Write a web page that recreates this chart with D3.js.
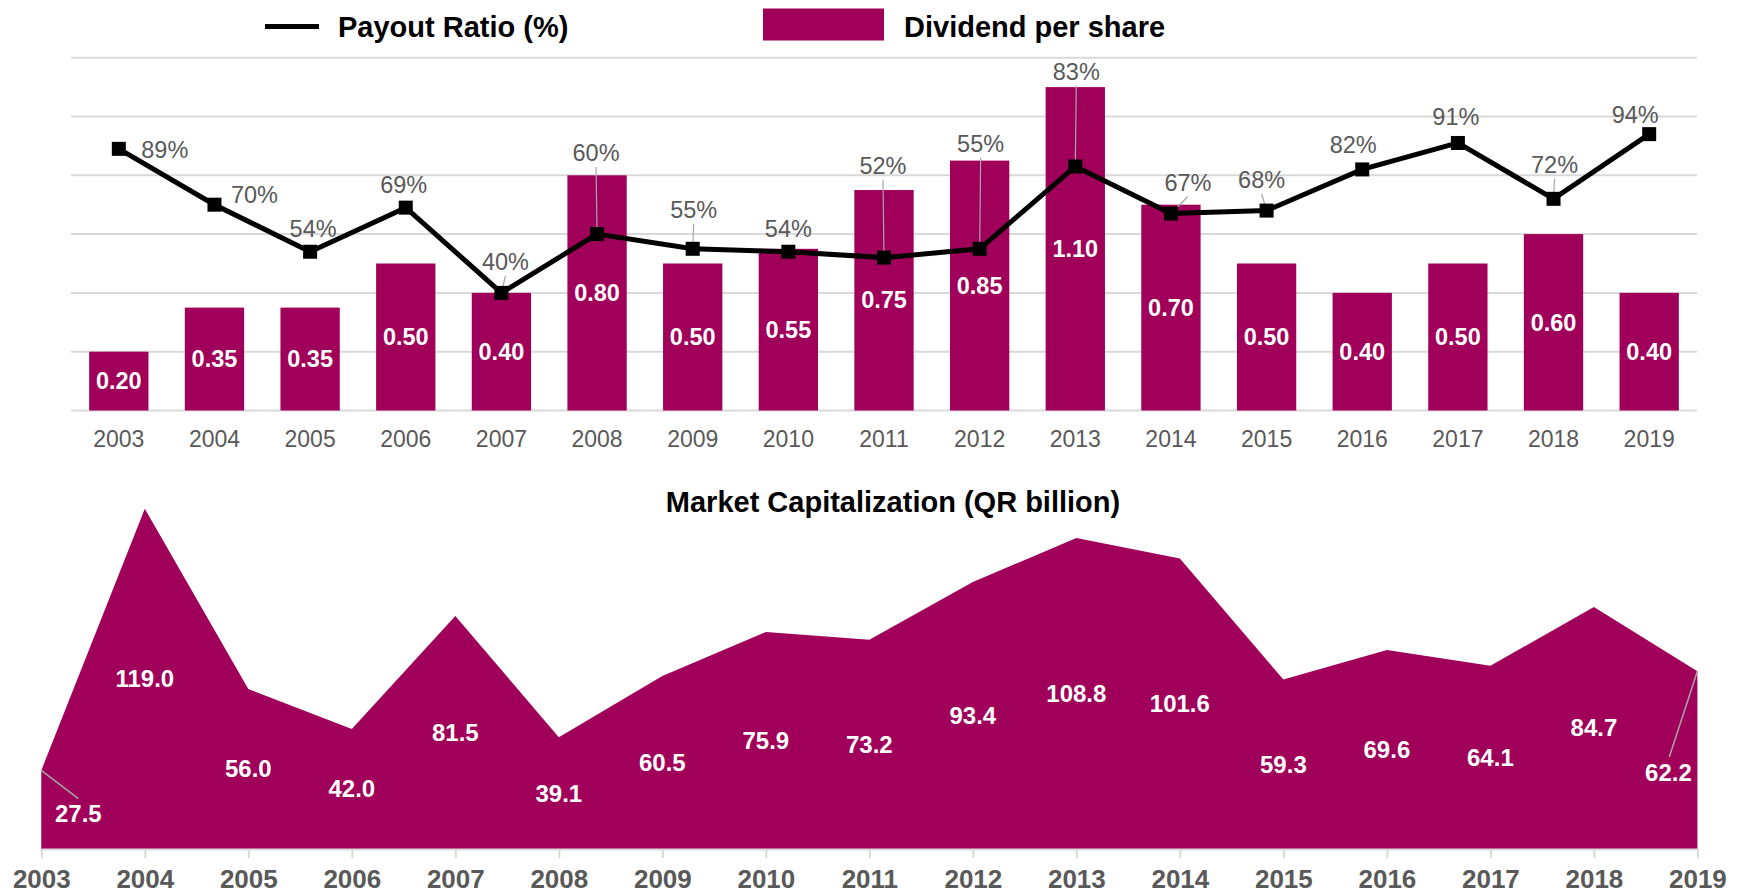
<!DOCTYPE html>
<html>
<head>
<meta charset="utf-8">
<script src="https://cdn.jsdelivr.net/npm/d3@7"></script>
<style>
  body { margin: 0; background: #fff; }
  text { font-family: "Liberation Sans", Arial, sans-serif; }
</style>
</head>
<body>
<div id="chart"></div>
<script>
// Data
const years = ["2003","2004","2005","2006","2007","2008","2009","2010","2011","2012","2013","2014","2015","2016","2017","2018","2019"];
const dividend = [0.20,0.35,0.35,0.50,0.40,0.80,0.50,0.55,0.75,0.85,1.10,0.70,0.50,0.40,0.50,0.60,0.40];
const payout = [89,70,54,69,40,60,55,54,52,55,83,67,68,82,91,72,94];
const marketCap = [27.5,119.0,56.0,42.0,81.5,39.1,60.5,75.9,73.2,93.4,108.8,101.6,59.3,69.6,64.1,84.7,62.2];
const divTicks = [0,0.2,0.4,0.6,0.8,1.0,1.2];

// label nudges for payout ratio labels (px, relative to marker)
const payoutLabelOffset = [[46,1],[40,-10],[3,-23],[-2,-23],[4,-31],[-1,-81],[1,-39],[0,-23],[-1,-92],[1,-105],[1,-95],[17,-31],[-5,-31],[-9,-25],[-2,-26],[1,-34],[-14,-19]];

const width = 1738;
const height = 895;
const color = "#a0005a";
const grey = "#595959";

const svg = d3.select("#chart")
  .append("svg")
  .attr("width", width)
  .attr("height", height);

/*
  Top chart: dividend bars + payout line
*/
const xScale1 = d3.scaleBand()
  .domain(years)
  .range([71, 1697])
  .paddingInner(0.38)
  .paddingOuter(0.19);

const yScale1 = d3.scaleLinear()
  .domain([0, 1.2])
  .range([410.5, 57.7]);

const yScale2 = d3.scaleLinear()
  .domain([0, 120])
  .range([410.5, 57.7]);

// gridlines
svg.append("g")
  .selectAll("line")
  .data(divTicks)
  .enter()
  .append("line")
    .attr("x1", 71)
    .attr("x2", 1697)
    .attr("y1", d => yScale1(d))
    .attr("y2", d => yScale1(d))
    .attr("stroke", "#d9d9d9")
    .attr("stroke-width", 2);

// bars
svg.selectAll(".bar")
  .data(dividend)
  .enter()
  .append("rect")
    .attr("class", "bar")
    .attr("x", (d, i) => xScale1(years[i]))
    .attr("y", d => yScale1(d))
    .attr("width", xScale1.bandwidth())
    .attr("height", d => yScale1(0) - yScale1(d))
    .attr("fill", color);

// x axis labels
const xAxis1 = svg.append("g")
  .attr("transform", `translate(0, 410.5)`)
  .call(d3.axisBottom(xScale1).tickSize(0).tickPadding(20));
xAxis1.select(".domain").remove();
xAxis1.selectAll("text")
  .attr("font-size", "23px")
  .attr("fill", grey)
  .attr("font-family", "Liberation Sans, Arial, sans-serif");

// bar value labels
svg.selectAll(".barlabel")
  .data(dividend)
  .enter()
  .append("text")
    .attr("class", "barlabel")
    .attr("x", (d, i) => xScale1(years[i]) + xScale1.bandwidth() / 2)
    .attr("y", d => yScale1(d / 2))
    .attr("dy", "0.35em")
    .attr("text-anchor", "middle")
    .attr("font-size", "23.5px")
    .attr("font-weight", "bold")
    .attr("fill", "#fff")
    .text(d => d.toFixed(2));

const cx = i => xScale1(years[i]) + xScale1.bandwidth() / 2;

// leader lines for payout labels
svg.selectAll(".leader")
  .data(payout.map((d, i) => i).filter(i => payoutLabelOffset[i][1] <= -30))
  .enter()
  .append("line")
    .attr("class", "leader")
    .attr("x1", i => cx(i) + payoutLabelOffset[i][0])
    .attr("y1", i => yScale2(payout[i]) + payoutLabelOffset[i][1] + 14)
    .attr("x2", i => cx(i))
    .attr("y2", i => yScale2(payout[i]))
    .attr("stroke", "#a6a6a6")
    .attr("stroke-width", 1.2);

// payout line
const line = d3.line()
  .x((d, i) => cx(i))
  .y(d => yScale2(d));

svg.append("path")
  .datum(payout)
  .attr("d", line)
  .attr("fill", "none")
  .attr("stroke", "#000")
  .attr("stroke-width", 5)
  .attr("stroke-linejoin", "miter");

svg.selectAll(".marker")
  .data(payout)
  .enter()
  .append("rect")
    .attr("class", "marker")
    .attr("x", (d, i) => cx(i) - 7)
    .attr("y", d => yScale2(d) - 7)
    .attr("width", 14)
    .attr("height", 14)
    .attr("fill", "#000");

svg.selectAll(".payoutlabel")
  .data(payout)
  .enter()
  .append("text")
    .attr("class", "payoutlabel")
    .attr("x", (d, i) => cx(i) + payoutLabelOffset[i][0])
    .attr("y", (d, i) => yScale2(d) + payoutLabelOffset[i][1])
    .attr("dy", "0.35em")
    .attr("text-anchor", "middle")
    .attr("font-size", "23.5px")
    .attr("fill", grey)
    .text(d => d + "%");

// legend
const legend = svg.append("g");
legend.append("line")
  .attr("x1", 265).attr("x2", 319)
  .attr("y1", 26.5).attr("y2", 26.5)
  .attr("stroke", "#000")
  .attr("stroke-width", 5);
legend.append("text")
  .attr("x", 338).attr("y", 26.5)
  .attr("dy", "0.35em")
  .attr("font-size", "29px")
  .attr("font-weight", "bold")
  .attr("fill", "#000")
  .text("Payout Ratio (%)");
legend.append("rect")
  .attr("x", 763).attr("y", 8.5)
  .attr("width", 121).attr("height", 32)
  .attr("fill", color);
legend.append("text")
  .attr("x", 904).attr("y", 26.5)
  .attr("dy", "0.35em")
  .attr("font-size", "29px")
  .attr("font-weight", "bold")
  .attr("fill", "#000")
  .text("Dividend per share");

/*
  Bottom chart: market cap area
*/
const xScale3 = d3.scalePoint()
  .domain(years)
  .range([41.3, 1697.4]);

const yScale3 = d3.scaleLinear()
  .domain([0, 120])
  .range([849, 506]);

svg.append("text")
  .attr("x", 893).attr("y", 501.5)
  .attr("dy", "0.35em")
  .attr("text-anchor", "middle")
  .attr("font-size", "29px")
  .attr("font-weight", "bold")
  .attr("fill", "#000")
  .text("Market Capitalization (QR billion)");

const area = d3.area()
  .x((d, i) => xScale3(years[i]))
  .y0(yScale3(0))
  .y1(d => yScale3(d));

svg.append("path")
  .datum(marketCap)
  .attr("d", area)
  .attr("fill", color);

const xAxis3 = svg.append("g")
  .attr("transform", `translate(0, 849)`)
  .call(d3.axisBottom(xScale3).tickSize(9).tickPadding(12).tickSizeOuter(0));
xAxis3.select(".domain").attr("stroke", "#d9d9d9").attr("stroke-width", 2);
xAxis3.selectAll("line").attr("stroke", "#d9d9d9").attr("stroke-width", 2);
xAxis3.selectAll("text")
  .attr("font-size", "26px")
  .attr("font-weight", "bold")
  .attr("fill", grey)
  .attr("font-family", "Liberation Sans, Arial, sans-serif");

// area labels, first and last pulled inside with leaders
const capLabelShift = marketCap.map((d, i) => i === 0 ? [37, 4] : (i === marketCap.length - 1 ? [-29, 12] : [0, 0]));

svg.selectAll(".capleader")
  .data([0, marketCap.length - 1])
  .enter()
  .append("line")
    .attr("class", "capleader")
    .attr("x1", i => xScale3(years[i]))
    .attr("y1", i => yScale3(marketCap[i]))
    .attr("x2", i => xScale3(years[i]) + capLabelShift[i][0] * (i === 0 ? 1 : 0.97))
    .attr("y2", i => yScale3(marketCap[i] / 2) + capLabelShift[i][1] - 15)
    .attr("stroke", "#a6a6a6")
    .attr("stroke-width", 1.5);

svg.selectAll(".caplabel")
  .data(marketCap)
  .enter()
  .append("text")
    .attr("class", "caplabel")
    .attr("x", (d, i) => xScale3(years[i]) + capLabelShift[i][0])
    .attr("y", (d, i) => yScale3(d / 2) + capLabelShift[i][1])
    .attr("dy", "0.35em")
    .attr("text-anchor", "middle")
    .attr("font-size", "24px")
    .attr("font-weight", "bold")
    .attr("fill", "#fff")
    .text(d => d.toFixed(1));
</script>
</body>
</html>
